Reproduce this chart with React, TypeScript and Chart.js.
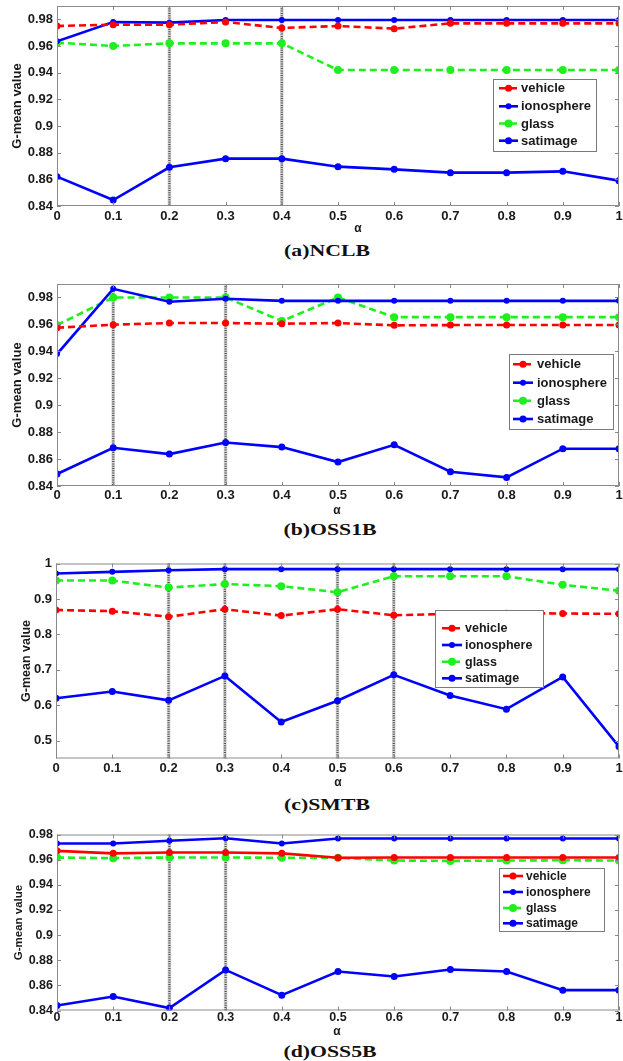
import React, { useEffect, useRef } from "react";
import { Chart, registerables } from "chart.js";

Chart.register(...registerables);

// ---------------- data ----------------
const alpha = [0, 0.1, 0.2, 0.3, 0.4, 0.5, 0.6, 0.7, 0.8, 0.9, 1];
const fineTicks = [0.84, 0.86, 0.88, 0.9, 0.92, 0.94, 0.96, 0.98];
const coarseTicks = [0.5, 0.6, 0.7, 0.8, 0.9, 1];
const seriesNames = ["vehicle", "ionosphere", "glass", "satimage"];
const xLabel = "α";
const yLabel = "G-mean value";
const captions = ["(a)NCLB", "(b)OSS1B", "(c)SMTB", "(d)OSS5B"];

// (a) NCLB
const aVehicle = [0.975, 0.976, 0.976, 0.978, 0.9735, 0.975, 0.973, 0.977, 0.977, 0.977, 0.977];
const aIono = [0.9635, 0.978, 0.9775, 0.9795, 0.9795, 0.9795, 0.9795, 0.9795, 0.9795, 0.9795, 0.9795];
const aGlass = [0.9625, 0.96, 0.962, 0.962, 0.962, 0.942, 0.942, 0.942, 0.942, 0.942, 0.942];
const aSat = [0.862, 0.8445, 0.869, 0.8755, 0.8755, 0.8695, 0.8675, 0.865, 0.865, 0.866, 0.859];
const aMarks = [0.2, 0.4];

// (b) OSS1B
const bVehicle = [0.9575, 0.9598, 0.961, 0.961, 0.9605, 0.961, 0.9593, 0.9595, 0.9595, 0.9595, 0.9595];
const bIono = [0.938, 0.9864, 0.9768, 0.979, 0.9775, 0.9775, 0.9775, 0.9775, 0.9775, 0.9775, 0.9775];
const bGlass = [0.9595, 0.98, 0.98, 0.98, 0.9625, 0.98, 0.9654, 0.9654, 0.9654, 0.9654, 0.9654];
const bSat = [0.8489, 0.8684, 0.8637, 0.8723, 0.8689, 0.8578, 0.8706, 0.8506, 0.8464, 0.8677, 0.8677];
const bMarks = [0.1, 0.3];

// (c) SMTB
const cVehicle = [0.869, 0.8655, 0.85, 0.871, 0.853, 0.871, 0.854, 0.858, 0.86, 0.859, 0.858];
const cIono = [0.972, 0.9765, 0.981, 0.984, 0.984, 0.984, 0.984, 0.984, 0.984, 0.984, 0.984];
const cGlass = [0.952, 0.952, 0.932, 0.942, 0.936, 0.919, 0.964, 0.964, 0.964, 0.94, 0.923];
const cSat = [0.62, 0.639, 0.614, 0.683, 0.553, 0.613, 0.686, 0.628, 0.589, 0.68, 0.4835];
const cMarks = [0.2, 0.3, 0.5, 0.6];

// (d) OSS5B
const dVehicle = [0.967, 0.965, 0.9657, 0.9657, 0.965, 0.9615, 0.9617, 0.9617, 0.9617, 0.9617, 0.9617];
const dIono = [0.9728, 0.9728, 0.975, 0.977, 0.9728, 0.9768, 0.9768, 0.9768, 0.9768, 0.9768, 0.9768];
const dGlass = [0.9617, 0.9612, 0.9617, 0.9617, 0.9615, 0.9615, 0.9593, 0.959, 0.9593, 0.9595, 0.9593];
const dSat = [0.844, 0.8511, 0.8419, 0.8723, 0.8522, 0.871, 0.867, 0.8726, 0.871, 0.8562, 0.8562];
const dMarks = [0.2, 0.3];

// ---------------- styles / layout ----------------
const SANS = "'Liberation Sans', Arial, sans-serif";
const SERIF = "'Liberation Serif', 'Times New Roman', serif";
const RED = "rgb(255,0,0)";
const BLUE = "rgb(0,0,255)";
const GREEN = "rgb(30,240,30)";
const TEXT = "#1a1a1a";

const panels = [
  {
    caption: captions[0], series: [aVehicle, aIono, aGlass, aSat], marks: aMarks,
    yMin: 0.84, yMax: 0.99, yTicks: fineTicks, vehicleDashed: true,
    top: 0, height: 236, area: { left: 57, right: 621, top: 6, bottom: 206 },
    xPad: 3, tickFont: 13, yTitleFont: 13, yTitlePad: 10,
    alphaPos: [358, 229], captionPos: [326.5, 251],
    legend: { x: 493, y: 79, w: 103, h: 72, rows: [88.3, 106.3, 123.5, 140.7], lx1: 499, lx2: 518, tx: 521, font: 13 },
  },
  {
    caption: captions[1], series: [bVehicle, bIono, bGlass, bSat], marks: bMarks,
    yMin: 0.84, yMax: 0.99, yTicks: fineTicks, vehicleDashed: true,
    top: 268, height: 250, area: { left: 57, right: 621, top: 284, bottom: 486 },
    xPad: 1.5, tickFont: 13, yTitleFont: 13, yTitlePad: 10,
    alphaPos: [337, 510.5], captionPos: [330, 530],
    legend: { x: 509, y: 354, w: 104, h: 75, rows: [364.3, 382.7, 400.7, 419], lx1: 513, lx2: 533, tx: 537, font: 13 },
  },
  {
    caption: captions[2], series: [cVehicle, cIono, cGlass, cSat], marks: cMarks,
    yMin: 0.45, yMax: 1.0, yTicks: coarseTicks, vehicleDashed: true,
    top: 545, height: 245, area: { left: 56, right: 621, top: 563.5, bottom: 758.5 },
    xPad: 2, tickFont: 13, yTitleFont: 12.5, yTitlePad: 19,
    alphaPos: [338, 782.7], captionPos: [327, 805],
    legend: { x: 435, y: 610, w: 108, h: 77, rows: [628.3, 645, 661.7, 678.3], lx1: 442, lx2: 462, tx: 465, font: 12.5 },
  },
  {
    caption: captions[3], series: [dVehicle, dIono, dGlass, dSat], marks: dMarks,
    yMin: 0.84, yMax: 0.98, yTicks: fineTicks, vehicleDashed: false,
    top: 815, height: 224, area: { left: 57, right: 621, top: 834.5, bottom: 1010.5 },
    xPad: 0, tickFont: 12.5, yTitleFont: 11.5, yTitlePad: 12,
    alphaPos: [337, 1031.7], captionPos: [330, 1051.7],
    legend: { x: 499, y: 868, w: 105, h: 63, rows: [876, 892, 908, 923.3], lx1: 503, lx2: 523, tx: 526, font: 12 },
  },
];

const fmt = (v: number) => String(Number(Number(v).toFixed(2)));

function makeDatasets(p: any) {
  const colors = [RED, BLUE, GREEN, BLUE];
  const dashes = [p.vehicleDashed ? [7, 4] : [], [], [7, 4], []];
  const radii = [3.5, 3, 4, 3.5];
  return p.series.map((vals: number[], i: number) => ({
    label: seriesNames[i],
    data: alpha.map((a, k) => ({ x: a, y: vals[k] })),
    borderColor: colors[i],
    backgroundColor: colors[i],
    pointBackgroundColor: colors[i],
    pointBorderColor: colors[i],
    pointBorderWidth: 0,
    borderWidth: 2.6,
    borderDash: dashes[i],
    pointRadius: radii[i],
    pointStyle: "circle",
    tension: 0,
  }));
}

function PanelChart({ p }: { p: any }) {
  const ref = useRef<HTMLCanvasElement | null>(null);
  useEffect(() => {
    const canvas = ref.current;
    if (!canvas) return;
    const oy = p.top;
    const frame = {
      id: "frame",
      beforeDatasetsDraw(chart: any) {
        const { ctx, chartArea: a } = chart;
        const xs = chart.scales.x;
        ctx.save();
        p.marks.forEach((m: number) => {
          const x = xs.getPixelForValue(m);
          ctx.strokeStyle = "rgba(165,165,165,0.5)";
          ctx.lineWidth = 3.5;
          ctx.setLineDash([]);
          ctx.beginPath();
          ctx.moveTo(x, a.top);
          ctx.lineTo(x, a.bottom);
          ctx.stroke();
          ctx.strokeStyle = "rgba(40,40,40,0.75)";
          ctx.lineWidth = 2.2;
          ctx.setLineDash([1, 1.3]);
          ctx.beginPath();
          ctx.moveTo(x, a.top);
          ctx.lineTo(x, a.bottom);
          ctx.stroke();
        });
        ctx.restore();
      },
      afterDatasetsDraw(chart: any) {
        const { ctx, chartArea: a } = chart;
        const xs = chart.scales.x;
        const ys = chart.scales.y;
        ctx.save();
        ctx.setLineDash([]);
        // frame
        ctx.strokeStyle = "#8a8a8a";
        ctx.lineWidth = 1;
        ctx.strokeRect(a.left + 0.5, a.top + 0.5, a.right - a.left - 1, a.bottom - a.top - 1);
        // inward ticks
        const tl = 4;
        ctx.beginPath();
        alpha.forEach((v) => {
          const x = Math.round(xs.getPixelForValue(v)) + 0.5;
          ctx.moveTo(x, a.bottom);
          ctx.lineTo(x, a.bottom - tl);
          ctx.moveTo(x, a.top);
          ctx.lineTo(x, a.top + tl);
        });
        p.yTicks.forEach((v: number) => {
          const y = Math.round(ys.getPixelForValue(v)) + 0.5;
          ctx.moveTo(a.left, y);
          ctx.lineTo(a.left + tl, y);
          ctx.moveTo(a.right, y);
          ctx.lineTo(a.right - tl, y);
        });
        ctx.stroke();
        // legend
        const L = p.legend;
        ctx.fillStyle = "#fff";
        ctx.fillRect(L.x, L.y - oy, L.w, L.h);
        ctx.strokeStyle = "#7a7a7a";
        ctx.strokeRect(L.x + 0.5, L.y - oy + 0.5, L.w, L.h);
        chart.data.datasets.forEach((ds: any, i: number) => {
          const y = L.rows[i] - oy;
          ctx.strokeStyle = ds.borderColor;
          ctx.lineWidth = ds.borderWidth;
          ctx.setLineDash(ds.borderDash || []);
          ctx.beginPath();
          ctx.moveTo(L.lx1, y);
          ctx.lineTo(L.lx2, y);
          ctx.stroke();
          ctx.setLineDash([]);
          ctx.fillStyle = ds.borderColor;
          ctx.beginPath();
          ctx.arc((L.lx1 + L.lx2) / 2, y, ds.pointRadius, 0, Math.PI * 2);
          ctx.fill();
          ctx.fillStyle = TEXT;
          ctx.font = `bold ${L.font}px ${SANS}`;
          ctx.textBaseline = "middle";
          ctx.textAlign = "left";
          ctx.fillText(ds.label, L.tx, y + 0.5);
        });
        // x label
        ctx.fillStyle = TEXT;
        ctx.font = `bold 12px ${SANS}`;
        ctx.textAlign = "center";
        ctx.textBaseline = "middle";
        ctx.fillText(xLabel, p.alphaPos[0], p.alphaPos[1] - oy);
        ctx.restore();
      },
    };

    const chart = new Chart(canvas, {
      type: "line",
      data: { datasets: makeDatasets(p) },
      options: {
        animation: false,
        responsive: false,
        maintainAspectRatio: false,
        layout: { padding: { top: p.area.top - oy, right: 623 - p.area.right, bottom: 0, left: 0 } },
        plugins: { legend: { display: false }, tooltip: { enabled: false }, title: { display: false } },
        scales: {
          x: {
            type: "linear",
            min: 0,
            max: 1,
            grid: { display: false, drawTicks: false },
            border: { display: false },
            afterBuildTicks: (s: any) => {
              s.ticks = alpha.map((v) => ({ value: v }));
            },
            afterFit: (s: any) => {
              s.height = p.height - (p.area.bottom - oy);
              s.paddingLeft = 0;
              s.paddingRight = 0;
            },
            ticks: {
              padding: p.xPad,
              autoSkip: false,
              maxRotation: 0,
              color: TEXT,
              font: { family: SANS, size: p.tickFont, weight: "bold" },
              callback: (v: any) => fmt(v),
            },
          },
          y: {
            type: "linear",
            min: p.yMin,
            max: p.yMax,
            grid: { display: false, drawTicks: false },
            border: { display: false },
            afterBuildTicks: (s: any) => {
              s.ticks = p.yTicks.map((v: number) => ({ value: v }));
            },
            afterFit: (s: any) => {
              s.width = p.area.left;
              s.paddingTop = 0;
              s.paddingBottom = 0;
            },
            ticks: {
              padding: 4,
              color: TEXT,
              font: { family: SANS, size: p.tickFont, weight: "bold" },
              callback: (v: any) => fmt(v),
            },
            title: {
              display: true,
              text: yLabel,
              color: TEXT,
              font: { family: SANS, size: p.yTitleFont, weight: "bold" },
              padding: { top: p.yTitlePad, bottom: 0 },
            },
          },
        },
      } as any,
      plugins: [frame],
    });
    return () => chart.destroy();
  }, [p]);
  return (
    <canvas
      ref={ref}
      width={623}
      height={p.height}
      style={{ position: "absolute", left: 0, top: p.top, width: 623, height: p.height }}
    />
  );
}

export default function App() {
  return (
    <div
      style={{
        position: "absolute",
        left: 0,
        top: 0,
        width: 623,
        height: 1061,
        background: "#fff",
        overflow: "hidden",
      }}
    >
      {panels.map((p, i) => (
        <PanelChart key={i} p={p} />
      ))}
      {panels.map((p, i) => (
        <div
          key={"c" + i}
          style={{
            position: "absolute",
            left: p.captionPos[0],
            top: p.captionPos[1],
            transform: "translate(-50%, -50%) scaleX(1.28)",
            font: `bold 17px ${SERIF}`,
            color: "#111",
            whiteSpace: "nowrap",
            lineHeight: "20px",
          }}
        >
          {p.caption}
        </div>
      ))}
    </div>
  );
}
